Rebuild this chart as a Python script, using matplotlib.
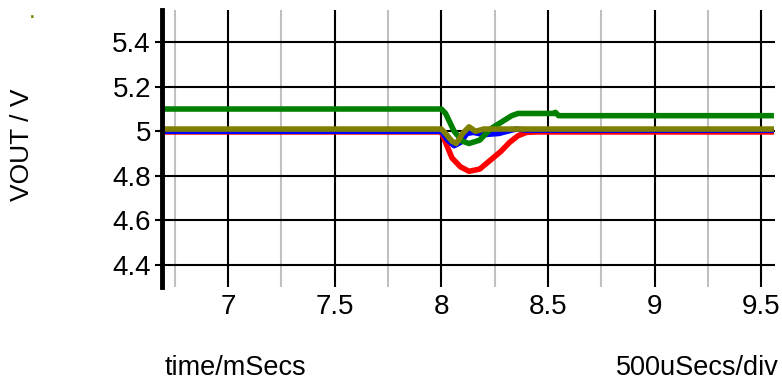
import matplotlib
matplotlib.use('Agg')
import matplotlib.pyplot as plt
from matplotlib.ticker import FormatStrFormatter, MultipleLocator

plt.rcParams['font.family'] = ['Liberation Sans', 'DejaVu Sans']

# time in ms, VOUT in V
t_green = [6.69, 8.0, 8.02, 8.06, 8.1, 8.13, 8.18, 8.23, 8.28, 8.33, 8.36, 8.53, 8.535, 8.55, 9.56]
v_green = [5.1, 5.1, 5.08, 5.0, 4.955, 4.945, 4.96, 5.01, 5.04, 5.07, 5.08, 5.08, 5.085, 5.07, 5.07]

t_red = [6.69, 8.0, 8.02, 8.05, 8.09, 8.13, 8.18, 8.23, 8.28, 8.32, 8.36, 8.4, 8.45, 9.56]
v_red = [4.997, 4.997, 4.95, 4.88, 4.84, 4.82, 4.83, 4.87, 4.91, 4.95, 4.98, 4.995, 4.997, 4.997]

t_blue = [6.69, 8.0, 8.03, 8.06, 8.09, 8.12, 8.15, 8.2, 8.27, 8.35, 8.4, 9.56]
v_blue = [5.0, 5.0, 4.96, 4.935, 4.95, 4.99, 4.995, 4.985, 4.99, 5.01, 5.005, 5.005]

t_olive = [6.69, 8.0, 8.02, 8.05, 8.07, 8.1, 8.13, 8.16, 8.2, 8.25, 9.56]
v_olive = [5.01, 5.01, 4.99, 4.955, 4.945, 4.99, 5.02, 5.0, 5.01, 5.01, 5.01]

fig = plt.figure(figsize=(7.82, 3.8), dpi=100)
ax = fig.add_axes([162/782, 1 - 287/380, 613/782, 277/380])

ax.plot(t_red, v_red, color='#ff0000', lw=4, solid_capstyle='butt')
ax.plot(t_blue, v_blue, color='#0000ff', lw=4, solid_capstyle='butt')
ax.plot(t_green, v_green, color='#008000', lw=4, solid_capstyle='butt')
ax.plot(t_olive, v_olive, color='#808000', lw=4, solid_capstyle='butt')

ax.set_xlim(6.69, 9.565)
ax.set_ylim(4.3, 5.545)

ax.xaxis.set_major_locator(MultipleLocator(0.5))
ax.xaxis.set_minor_locator(MultipleLocator(0.25))
ax.xaxis.set_major_formatter(FormatStrFormatter('%g'))
ax.yaxis.set_major_formatter(FormatStrFormatter('%g'))
ax.set_yticks([4.4, 4.6, 4.8, 5.0, 5.2, 5.4])

ax.grid(which='major', axis='both', color='black', lw=1.5, zorder=0)
ax.grid(which='minor', axis='x', color='#c0c0c0', lw=1.5, zorder=0)
ax.set_axisbelow(True)

for s in ['top', 'right', 'bottom']:
    ax.spines[s].set_visible(False)
ax.spines['left'].set_linewidth(3.5)

ax.tick_params(axis='y', length=5, width=1.5, pad=3, labelsize=20)
ax.tick_params(axis='x', which='both', length=0, pad=5, labelsize=20)

fig.text(22/782, 1 - 145/380, 'VOUT / V', rotation=90, ha='center', va='center', fontsize=19)
fig.text(165/782, 1 - 368/380, 'time/mSecs', ha='left', va='center', fontsize=19.5)
fig.text(779/782, 1 - 368/380, '500uSecs/div', ha='right', va='center', fontsize=19.5)
fig.text(32/782, 1 - 13/380, '.', color='#808000', ha='center', va='center', fontsize=12, fontweight='bold')

fig.savefig('out.png', dpi=100)
